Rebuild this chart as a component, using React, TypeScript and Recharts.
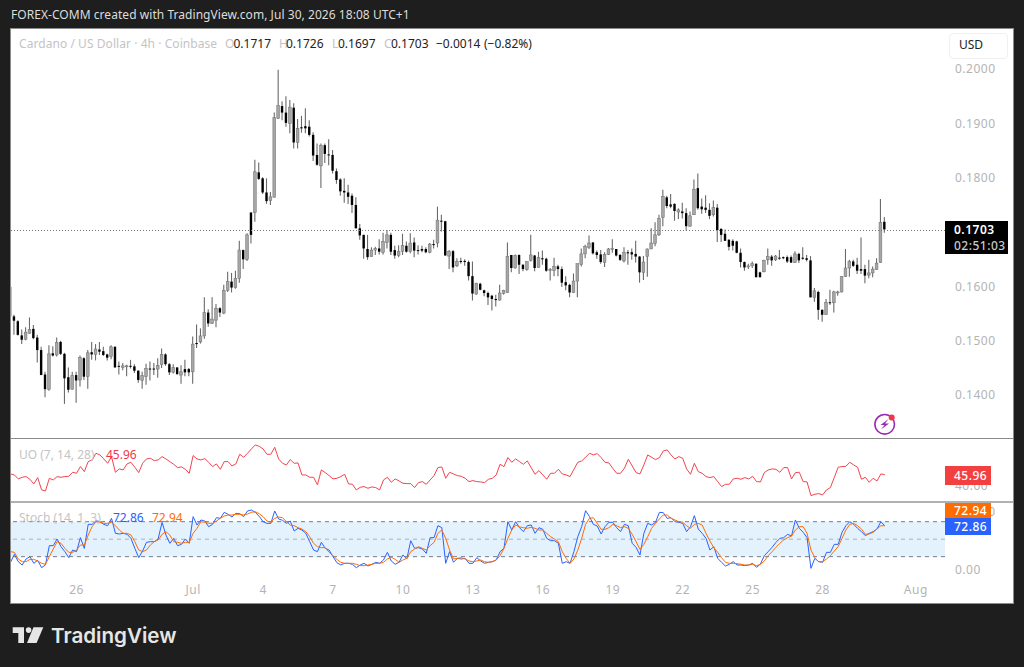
import React from "react";
import { ComposedChart, Bar, Line, XAxis, YAxis, ReferenceLine, ReferenceArea } from "recharts";

const opens = [
.1597,.1543,.1534,.1508,.1501,.1512,.1520,.1504,.1481,.1436,
.1409,.1475,.1472,.1496,.1474,.1431,.1409,.1435,.1426,.1466,
.1432,.1477,.1473,.1482,.1479,.1473,.1469,.1487,.1452,.1449,
.1451,.1452,.1451,.1443,.1425,.1432,.1447,.1447,.1446,.1454,
.1473,.1455,.1440,.1449,.1435,.1446,.1446,.1441,.1494,.1496,
.1507,.1550,.1530,.1536,.1558,.1549,.1591,.1607,.1596,.1613,
.1665,.1648,.1734,.1734,.1808,.1797,.1771,.1756,.1762,.1907,
.1930,.1918,.1898,.1927,.1863,.1891,.1893,.1892,.1877,.1840,
.1820,.1858,.1841,.1840,.1810,.1795,.1774,.1771,.1765,.1748,
.1705,.1693,.1667,.1653,.1665,.1668,.1661,.1679,.1693,.1665,
.1655,.1663,.1673,.1662,.1679,.1665,.1667,.1667,.1661,.1676,
.1678,.1719,.1718,.1654,.1663,.1636,.1645,.1645,.1643,.1617,
.1584,.1603,.1591,.1586,.1581,.1575,.1573,.1585,.1587,.1656,
.1632,.1656,.1638,.1629,.1646,.1655,.1633,.1650,.1649,.1627,
.1627,.1635,.1630,.1606,.1601,.1587,.1608,.1638,.1658,.1670,
.1679,.1661,.1657,.1642,.1657,.1667,.1667,.1656,.1645,.1661,
.1661,.1658,.1653,.1624,.1653,.1667,.1677,.1693,.1725,.1762,
.1749,.1750,.1735,.1736,.1733,.1709,.1730,.1779,.1745,.1743,
.1739,.1730,.1743,.1704,.1695,.1684,.1682,.1681,.1660,.1643,
.1634,.1636,.1640,.1624,.1625,.1647,.1653,.1647,.1651,.1652,
.1652,.1652,.1642,.1658,.1651,.1650,.1646,.1578,.1588,.1555,
.1546,.1569,.1568,.1587,.1588,.1616,.1632,.1644,.1638,.1630,
.1630,.1619,.1623,.1629,.1642,.1717];
const highs = [
.1598,.1546,.1536,.1519,.1523,.1541,.1527,.1509,.1487,.1441,
.1490,.1488,.1504,.1498,.1476,.1449,.1441,.1441,.1471,.1468,
.1481,.1496,.1492,.1496,.1487,.1474,.1490,.1488,.1460,.1457,
.1454,.1463,.1455,.1444,.1441,.1456,.1460,.1457,.1466,.1484,
.1475,.1457,.1455,.1450,.1453,.1463,.1448,.1506,.1528,.1521,
.1578,.1556,.1578,.1566,.1560,.1601,.1625,.1623,.1627,.1682,
.1666,.1696,.1735,.1831,.1826,.1799,.1797,.1772,.1918,.1997,
.1939,.1948,.1941,.1935,.1906,.1912,.1926,.1904,.1882,.1861,
.1861,.1861,.1869,.1849,.1815,.1797,.1797,.1785,.1769,.1762,
.1713,.1693,.1693,.1670,.1671,.1685,.1697,.1702,.1697,.1673,
.1674,.1695,.1681,.1696,.1688,.1674,.1673,.1670,.1678,.1684,
.1745,.1730,.1719,.1665,.1665,.1650,.1651,.1648,.1646,.1644,
.1605,.1605,.1592,.1589,.1583,.1583,.1601,.1592,.1679,.1656,
.1657,.1657,.1639,.1644,.1693,.1656,.1662,.1664,.1651,.1632,
.1651,.1638,.1635,.1617,.1603,.1622,.1640,.1668,.1675,.1692,
.1680,.1664,.1665,.1661,.1669,.1685,.1667,.1658,.1670,.1665,
.1668,.1682,.1654,.1654,.1668,.1705,.1716,.1730,.1776,.1765,
.1768,.1751,.1742,.1752,.1742,.1736,.1795,.1806,.1760,.1766,
.1751,.1756,.1750,.1705,.1703,.1685,.1685,.1682,.1668,.1644,
.1640,.1644,.1640,.1625,.1647,.1668,.1656,.1656,.1665,.1653,
.1655,.1655,.1663,.1660,.1670,.1656,.1654,.1595,.1590,.1556,
.1575,.1592,.1590,.1590,.1617,.1667,.1647,.1647,.1651,.1688,
.1638,.1647,.1635,.1650,.1759,.1726];
const lows = [
.1533,.1509,.1508,.1492,.1499,.1511,.1501,.1458,.1435,.1394,
.1406,.1469,.1469,.1472,.1382,.1403,.1408,.1384,.1414,.1426,
.1410,.1463,.1462,.1472,.1470,.1462,.1464,.1449,.1436,.1444,
.1433,.1447,.1439,.1421,.1410,.1417,.1425,.1435,.1430,.1448,
.1452,.1435,.1438,.1435,.1419,.1433,.1433,.1419,.1485,.1493,
.1502,.1524,.1529,.1523,.1542,.1547,.1588,.1587,.1594,.1605,
.1630,.1645,.1677,.1717,.1794,.1768,.1750,.1748,.1762,.1906,
.1904,.1892,.1880,.1852,.1852,.1881,.1880,.1874,.1829,.1820,
.1779,.1825,.1821,.1806,.1787,.1765,.1752,.1750,.1733,.1705,
.1684,.1649,.1647,.1653,.1656,.1657,.1657,.1668,.1656,.1649,
.1652,.1656,.1660,.1659,.1652,.1657,.1661,.1659,.1659,.1668,
.1670,.1699,.1655,.1630,.1624,.1634,.1640,.1636,.1609,.1572,
.1583,.1591,.1580,.1564,.1554,.1561,.1572,.1583,.1586,.1624,
.1631,.1621,.1626,.1627,.1644,.1626,.1633,.1638,.1625,.1609,
.1617,.1617,.1597,.1591,.1578,.1586,.1578,.1635,.1650,.1667,
.1657,.1649,.1640,.1634,.1656,.1660,.1653,.1645,.1642,.1638,
.1647,.1642,.1605,.1610,.1616,.1667,.1672,.1691,.1709,.1742,
.1742,.1719,.1722,.1723,.1701,.1708,.1730,.1739,.1732,.1733,
.1722,.1727,.1680,.1680,.1682,.1664,.1664,.1659,.1633,.1627,
.1630,.1632,.1615,.1615,.1624,.1638,.1636,.1645,.1647,.1648,
.1641,.1641,.1641,.1641,.1647,.1644,.1578,.1570,.1537,.1533,
.1546,.1564,.1550,.1581,.1587,.1616,.1616,.1634,.1621,.1621,
.1604,.1613,.1615,.1629,.1641,.1697];
const closes = [
.1543,.1535,.1509,.1500,.1514,.1519,.1503,.1481,.1435,.1409,
.1474,.1471,.1495,.1474,.1429,.1408,.1434,.1425,.1467,.1432,
.1476,.1473,.1483,.1478,.1472,.1467,.1487,.1449,.1451,.1452,
.1452,.1451,.1443,.1426,.1434,.1447,.1446,.1446,.1453,.1473,
.1455,.1440,.1449,.1437,.1441,.1440,.1440,.1492,.1492,.1507,
.1550,.1530,.1538,.1558,.1550,.1591,.1607,.1596,.1613,.1665,
.1648,.1693,.1693,.1809,.1796,.1771,.1755,.1763,.1909,.1931,
.1918,.1899,.1928,.1863,.1889,.1889,.1889,.1877,.1839,.1822,
.1858,.1842,.1840,.1811,.1794,.1773,.1771,.1763,.1748,.1705,
.1692,.1668,.1652,.1665,.1668,.1662,.1681,.1693,.1662,.1655,
.1662,.1673,.1662,.1678,.1664,.1664,.1664,.1661,.1676,.1675,
.1720,.1718,.1655,.1662,.1633,.1644,.1643,.1643,.1617,.1585,
.1604,.1592,.1586,.1578,.1575,.1573,.1586,.1591,.1653,.1632,
.1655,.1638,.1630,.1644,.1656,.1632,.1651,.1648,.1627,.1629,
.1635,.1630,.1605,.1600,.1587,.1608,.1640,.1658,.1672,.1678,
.1659,.1656,.1643,.1657,.1667,.1668,.1655,.1647,.1661,.1659,
.1657,.1653,.1624,.1643,.1667,.1678,.1693,.1723,.1764,.1746,
.1745,.1737,.1739,.1733,.1709,.1728,.1777,.1742,.1740,.1739,
.1728,.1743,.1702,.1693,.1682,.1671,.1673,.1660,.1643,.1633,
.1636,.1640,.1615,.1615,.1646,.1653,.1646,.1654,.1650,.1650,
.1644,.1642,.1658,.1646,.1649,.1647,.1578,.1590,.1555,.1546,
.1569,.1568,.1588,.1588,.1616,.1632,.1644,.1636,.1627,.1627,
.1618,.1623,.1630,.1641,.1716,.1703];

const uoValues = [
46.4,45.8,43.4,44.4,44.8,43.2,40.4,44.2,36.8,36.2,
43.8,42.8,44.8,44.4,44.8,45,47.4,46.8,50.8,47.8,
53.8,54.8,58.8,57.8,55.4,52.8,56.8,47.4,49.4,48.8,
52.4,53.4,50.4,47.2,52.8,55.4,55.8,54.4,54.8,56.8,
55.4,53.8,52.2,50.2,50.6,49.2,46.8,57.4,55.4,54.8,
55.6,53.4,50.8,52.4,49.2,53.8,53.8,51.2,52.4,58.2,
56.4,58.8,61.4,63.8,63,61.4,58.2,58.2,62.4,55.4,
52.8,51.8,55,52.8,53,45.8,45.8,44.4,44.4,39.8,
48.8,47.2,45.4,43.4,43.8,44.8,46.2,40.4,40.2,36.8,
38.4,38.8,37.8,38.6,38.2,36.8,42.8,44.4,41.4,43.4,
42.2,40.8,40.6,40.6,38.2,41.2,41.8,40.2,42.8,45.4,
50.2,50.6,43.8,47.4,46.4,45.4,45,43.8,41.8,42.4,
41.8,41.6,41.2,43.2,43.8,45.8,52.2,50.8,56.2,53.4,
55.4,53.8,52.2,54.2,50.2,46.2,48.4,45.8,43.2,46.8,
46.8,49.2,46.4,45.8,44.8,49.2,53.4,54.2,56.4,58.8,
57.8,58.6,56.2,53.4,53,49.8,46.8,46.8,49.8,55.2,
51.2,47.2,46.4,51.8,57.8,56.4,55,56.2,60.2,60.8,
57.8,55.4,56.8,55.8,49.4,46.2,52.8,47.8,46.8,44.8,
44.2,44.8,41.8,38.8,40.2,40.2,43.4,43.8,43.2,44.2,
43.4,45,41.8,41.6,47.2,48.8,49.4,49.2,47.4,50.2,
50.2,43.4,47.2,47.4,41.8,41.6,33.4,34.2,34.6,33.8,
36.8,38.2,44.2,50.4,50.8,51,53.4,51.8,50.4,43.2,
44.4,41.4,43.8,42.2,46.4,45.96];

const stochK = [
10.3,24,11.4,5.7,16,20,8.6,13.7,1.1,5.7,
38.9,38.9,50.3,37.1,28.6,18.3,31.4,28.6,52.6,34.3,
75.4,75.4,81.7,80,75.4,73.1,85.7,60,58.9,60,
58.3,51.4,34.3,18.3,29.7,44.6,45.7,45.7,50.3,78.9,
57.1,42.9,51.4,38.9,41.1,50.3,42.9,88.6,74.3,82.9,
81.1,71.4,75.4,86.9,85.7,96,92.6,88,94.3,93.7,
88.6,98.3,100,96,89.1,80,77.1,77.1,98.3,84.6,
82.3,77.1,81.1,64,68.6,65.7,60,45.7,31.4,28.6,
44.6,34.3,31.4,20,9.7,5.7,8.6,8.6,6.9,1.1,
5.7,8.6,4,6.9,10.3,8.6,14.3,27.4,12.6,6.9,
10.3,22.9,16,47.4,34.3,35.4,33.1,25.7,52.6,52.6,
73.1,69.7,8.6,28.6,10.3,17.1,16,17.1,8.6,8.6,
18.3,12.6,8.6,10.3,11.4,14.3,28.6,34.3,80,65.7,
80,69.7,62.9,73.1,74.3,60,69.7,66.9,51.4,47.4,
47.4,42.9,8.6,11.4,8.6,28.6,54.3,71.4,98.9,88.6,
75.4,72.6,58.9,71.4,78.9,78.9,69.7,62.9,75.4,73.1,
42.9,36,22.9,60,77.1,74.3,78.9,96,95.4,85.7,
86.9,80,78.9,77.1,62.9,71.4,90.3,67.4,60,51.4,
31.4,37.1,17.1,10.3,4,6.9,11.4,5.7,5.7,4.6,
5.7,8.6,1.7,7.4,21.7,28.6,36,44.6,51.4,52.6,
58.3,55.4,82.9,68.6,61.7,52.6,0,17.1,11.4,10.3,
27.4,27.4,41.1,41.1,61.7,73.1,80,75.4,68.6,62.9,
56,60,62.9,67.4,80,72.86];

const stochD = [
28.6,27.4,16,11.4,11.4,15.4,15.4,12.6,8.6,6.9,
20,33.1,45.7,42.9,34.3,27.4,27.4,31.4,40,40,
57.1,71.4,80,78.9,77.1,77.1,78.9,73.1,65.7,60,
60,57.1,45.7,31.4,28.6,31.4,40,45.7,48.6,58.3,
62.9,57.1,45.7,44.6,42.9,44.6,44.6,60,68.6,80,
78.9,77.1,77.1,81.1,85.7,89.7,91.4,91.4,92.6,92.6,
91.4,93.1,96,97.1,93.7,88.6,81.1,78.9,85.7,88,
86.9,80,74.3,73.1,69.7,67.4,62.9,54.3,42.9,37.1,
35.4,35.4,27.4,21.7,15.4,10.3,8.6,8.6,8.6,6.9,
4.6,4.6,5.7,6.9,8.6,8.6,10.3,16,18.9,15.4,
10.3,14.3,17.1,28.6,33.1,37.1,34.3,31.4,38.9,44.6,
60,65.7,51.4,31.4,16,17.1,18.3,16,12.6,11.4,
12.6,14.3,11.4,10.3,11.4,14.3,21.7,34.3,51.4,65.7,
74.3,70.9,69.7,68.6,70.3,68.6,65.7,65.7,60,54.3,
50.3,45.7,28.6,17.1,8.6,16,31.4,51.4,75.4,85.7,
86.9,77.1,66.9,66.9,69.7,75.4,73.1,69.7,71.4,68.6,
58.3,45.7,32.6,41.1,54.3,68.6,77.1,84.6,91.4,91.4,
85.7,82.9,80,78.9,73.1,68.6,75.4,77.1,74.3,60,
46.9,35.4,27.4,18.3,10.3,8.6,8.6,8,6.9,5.7,
5.7,6.9,4.6,6.9,12.6,21.7,28.6,36,42.9,48.6,
52.6,55.4,65.7,71.4,71.4,60,31.4,18.3,11.4,11.4,
16,21.7,29.7,37.1,51.4,65.7,75.4,77.1,73.1,67.4,
58.3,58.9,61.7,67.4,73.1,72.94];

const priceTicks = [0.14, 0.15, 0.16, 0.18, 0.19, 0.2];
const timeTickIndex = [17, 47, 65, 83, 101, 119, 137, 155, 173, 191, 209, 233];
const timeTickLabels = ["26", "Jul", "4", "7", "10", "13", "16", "19", "22", "25", "28", "Aug"];
const lastPriceLine = 0.1701;

const candleRows = opens.map((o, i) => ({ i, open: o, high: highs[i], low: lows[i], close: closes[i], range: [lows[i], highs[i]] }));
const indicatorRows = uoValues.map((u, i) => ({ i, uo: u, k: stochK[i], d: stochD[i] }));

const UI_FONT = "'Noto Sans', sans-serif";
const AXIS_GREY = "#b4b4b4";
const X_DOMAIN: [number, number] = [0.13, 240.5];
const CHART_W = 1002;
const AXIS_W = 68;
const tickStyle = { fill: AXIS_GREY, fontSize: 12, fontFamily: UI_FONT, letterSpacing: 0.5, dy: 1 };

const Candle = (props: any) => {
  const { x, y, width, height, payload } = props;
  const { open, high, low, close } = payload;
  const top = Math.min(y, y + height);
  const h = Math.abs(height);
  const cx = x + width / 2;
  const at = (v: number) => top + ((high - v) / (high - low)) * h;
  const bodyTop = at(Math.max(open, close));
  const bodyH = Math.max(at(Math.min(open, close)) - bodyTop, 1);
  const up = close >= open;
  const w = up ? 2.8 : 2.4;
  return (
    <g>
      <line x1={cx} x2={cx} y1={top} y2={top + h} stroke="#6a6a6a" strokeWidth={1.1} />
      <rect
        x={cx - w / 2}
        width={w}
        y={bodyTop}
        height={bodyH}
        fill={up ? "#a6a6a6" : "#000"}
        stroke={up ? "#6e6e6e" : "none"}
        strokeWidth={0.5}
      />
    </g>
  );
};

const Txt = ({ x, y, color, size = 12, weight = 400, font = UI_FONT, spacing = 0, children }: any) => (
  <div
    style={{
      position: "absolute",
      left: x,
      top: y,
      transform: "translateY(-50%)",
      color,
      fontSize: size,
      fontWeight: weight,
      fontFamily: font,
      letterSpacing: spacing,
      whiteSpace: "pre",
      lineHeight: 1,
    }}
  >
    {children}
  </div>
);

const Badge = ({ x, y, w, h, bg, children }: any) => (
  <div
    style={{
      position: "absolute",
      left: x,
      top: y,
      width: w,
      height: h,
      background: bg,
      color: "#fff",
      fontSize: 12,
      fontFamily: UI_FONT,
      fontWeight: 500,
      letterSpacing: 0.5,
      display: "flex",
      alignItems: "center",
      paddingLeft: 9,
      boxSizing: "border-box",
    }}
  >
    {children}
  </div>
);

export default function App() {
  return (
    <div style={{ position: "absolute", left: 0, top: 0, width: 1024, height: 667, background: "#1e1e1e", overflow: "hidden" }}>
      <Txt x={11} y={15} color="#dcdcdc" size={12} spacing={0.05}>
        FOREX-COMM created with TradingView.com, Jul 30, 2026 18:08 UTC+1
      </Txt>

      <div style={{ position: "absolute", left: 10, top: 28, width: 1004, height: 576, background: "#fff", border: "1px solid #8c8c8c", boxSizing: "border-box" }} />

      <div style={{ position: "absolute", left: 11, top: 29 }}>
        <ComposedChart width={CHART_W} height={409} data={candleRows} margin={{ top: 0, right: 0, bottom: 0, left: 0 }}>
          <XAxis type="number" dataKey="i" domain={X_DOMAIN} allowDataOverflow hide />
          <YAxis
            orientation="right"
            width={AXIS_W}
            domain={[0.13192, 0.20718]}
            allowDataOverflow
            ticks={priceTicks}
            tickFormatter={(v: number) => v.toFixed(4)}
            axisLine={false}
            tickLine={false}
            tickSize={0}
            tickMargin={10}
            tick={tickStyle}
          />
          <ReferenceLine y={lastPriceLine} stroke="#777" strokeDasharray="1 2" />
          <Bar dataKey="range" barSize={3} shape={<Candle />} isAnimationActive={false} />
        </ComposedChart>
      </div>

      <div style={{ position: "absolute", left: 11, top: 439 }}>
        <ComposedChart width={CHART_W} height={62} data={indicatorRows} margin={{ top: 0, right: 0, bottom: 0, left: 0 }}>
          <XAxis type="number" dataKey="i" domain={X_DOMAIN} allowDataOverflow hide />
          <YAxis
            orientation="right"
            width={AXIS_W}
            domain={[30.16, 67.36]}
            allowDataOverflow
            ticks={[40]}
            tickFormatter={(v: number) => v.toFixed(2)}
            axisLine={false}
            tickLine={false}
            tickSize={0}
            tickMargin={10}
            tick={tickStyle}
          />
          <Line dataKey="uo" stroke="#f2444f" strokeWidth={1} dot={false} isAnimationActive={false} />
        </ComposedChart>
      </div>

      <div style={{ position: "absolute", left: 11, top: 503 }}>
        <ComposedChart width={CHART_W} height={100} data={indicatorRows} margin={{ top: 0, right: 0, bottom: 0, left: 0 }}>
          <XAxis
            type="number"
            dataKey="i"
            domain={X_DOMAIN}
            allowDataOverflow
            ticks={timeTickIndex}
            tickFormatter={(v: number) => timeTickLabels[timeTickIndex.indexOf(v)]}
            interval={0}
            axisLine={false}
            tickLine={false}
            tickSize={0}
            tickMargin={4}
            height={23}
            tick={tickStyle}
          />
          <YAxis
            orientation="right"
            width={AXIS_W}
            domain={[-20, 112]}
            allowDataOverflow
            ticks={[0, 100]}
            tickFormatter={(v: number) => v.toFixed(2)}
            axisLine={false}
            tickLine={false}
            tickSize={0}
            tickMargin={10}
            tick={tickStyle}
          />
          <ReferenceArea y1={20} y2={80} fill="#2196f3" fillOpacity={0.12} stroke="none" />
          <ReferenceLine y={80} stroke="#787b86" strokeDasharray="4 4" />
          <ReferenceLine y={50} stroke="#787b86" strokeOpacity={0.55} strokeDasharray="4 4" />
          <ReferenceLine y={20} stroke="#787b86" strokeDasharray="4 4" />
          <Line dataKey="k" stroke="#2962ff" strokeWidth={1} dot={false} isAnimationActive={false} />
          <Line dataKey="d" stroke="#ff6d00" strokeWidth={1} dot={false} isAnimationActive={false} />
        </ComposedChart>
      </div>

      <div style={{ position: "absolute", left: 11, top: 438, width: 1002, height: 1, background: "#8a8a8a" }} />
      <div style={{ position: "absolute", left: 11, top: 501, width: 1002, height: 2, background: "#b0b0b0" }} />

      <Txt x={19} y={44} color="#c4c4c4" spacing={0.06}>Cardano / US Dollar · 4h · Coinbase</Txt>
      <Txt x={225} y={44} color="#c4c4c4">O</Txt>
      <Txt x={233.5} y={44} color="#222">0.1717</Txt>
      <Txt x={279} y={44} color="#c4c4c4">H</Txt>
      <Txt x={286} y={44} color="#222">0.1726</Txt>
      <Txt x={332} y={44} color="#c4c4c4">L</Txt>
      <Txt x={338} y={44} color="#222">0.1697</Txt>
      <Txt x={384} y={44} color="#c4c4c4">C</Txt>
      <Txt x={391} y={44} color="#222">0.1703</Txt>
      <Txt x={436} y={44} color="#222">−0.0014</Txt>
      <Txt x={484} y={44} color="#222">(−0.82%)</Txt>

      <div style={{ position: "absolute", left: 949, top: 33, width: 59, height: 26, background: "#fff", border: "1px solid #f0f0f0", borderRadius: 4, boxSizing: "border-box" }} />
      <Txt x={959} y={45} color="#222">USD</Txt>

      <Badge x={945} y={221} w={63} h={33} bg="#000">
        <div style={{ lineHeight: "16px", marginTop: 1 }}>
          <div style={{ fontWeight: 600 }}>0.1703</div>
          <div style={{ color: "#c8c8c8" }}>02:51:03</div>
        </div>
      </Badge>

      <Txt x={19} y={455} color="#c4c4c4">UO (7, 14, 28)</Txt>
      <Txt x={106} y={455} color="#f23645">45.96</Txt>
      <Badge x={945} y={466} w={46} h={19} bg="#f23f3f">45.96</Badge>

      <Txt x={19} y={518} color="#c4c4c4">Stoch (14, 1, 3)</Txt>
      <Txt x={113} y={518} color="#2962ff">72.86</Txt>
      <Txt x={152} y={518} color="#ff6d00">72.94</Txt>
      <Badge x={945} y={503} w={46} h={15} bg="#ff6d00">72.94</Badge>
      <Badge x={945} y={518} w={46} h={17} bg="#2962ff">72.86</Badge>

      <svg style={{ position: "absolute", left: 870, top: 408 }} width={30} height={30} viewBox="0 0 30 30">
        <circle cx={14.7} cy={16.3} r={9.8} fill="none" stroke="#9c27b0" strokeWidth={1.6} />
        <path d="M18.5 11 L10.5 17 L14.5 17 L11 21.5 L19 15.5 L15 15.5 Z" fill="#9c27b0" />
        <circle cx={21.7} cy={9.5} r={3} fill="#f23645" />
      </svg>

      <svg style={{ position: "absolute", left: 0, top: 620 }} width={50} height={30} viewBox="0 0 50 30">
        <path d="M12.7 7.3 H24 V23 H18.3 V13 H12.7 Z" fill="#e6e6e6" />
        <circle cx={28.6} cy={10.1} r={2.8} fill="#e6e6e6" />
        <path d="M33.5 7.3 H43.3 L36.6 23 H27 Z" fill="#e6e6e6" />
      </svg>
      <Txt x={51} y={636} color="#e6e6e6" size={20.6} weight={600} font="Inter, sans-serif">TradingView</Txt>
    </div>
  );
}
